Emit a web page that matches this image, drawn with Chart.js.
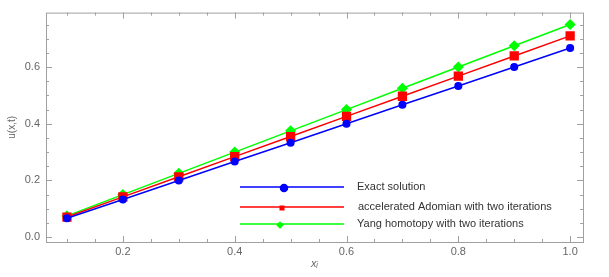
<!DOCTYPE html>
<html>
<head>
<meta charset="utf-8">
<script src="https://cdn.jsdelivr.net/npm/chart.js@4"></script>
<style>
  html, body { margin: 0; padding: 0; background: #fff; }
  #wrap { width: 609px; height: 277px; }
</style>
</head>
<body>
<div id="wrap"><canvas id="chart"></canvas></div>
<script>
// values
const xValues = [0.1, 0.2, 0.3, 0.4, 0.5, 0.6, 0.7, 0.8, 0.9, 1.0];
const exactValues = [0.067, 0.133, 0.2, 0.267, 0.333, 0.4, 0.467, 0.533, 0.6, 0.667];
const adomianValues = [0.071, 0.142, 0.213, 0.284, 0.355, 0.426, 0.497, 0.568, 0.639, 0.71];
const yangValues = [0.075, 0.15, 0.225, 0.3, 0.375, 0.45, 0.525, 0.6, 0.675, 0.75];
const seriesNames = ['Exact solution', 'accelerated Adomian with two iterations', 'Yang homotopy with two iterations'];
const xTickLabels = [0.2, 0.4, 0.6, 0.8, 1.0];
const yTickLabels = [0.0, 0.2, 0.4, 0.6];

const FONT = 'Arial, "Liberation Sans", sans-serif';
const AXIS_COLOR = '#a0a0a0';
const LABEL_COLOR = '#666';

function pts(ys) {
    return xValues.map((x, i) => ({ x: x, y: ys[i] }));
}

function minorList(from, to, step) {
    const out = [];
    for (let v = from; v <= to + 1e-9; v += step) out.push(Math.round(v * 1000) / 1000);
    return out;
}

// frame with inward ticks on all four sides
const framePlugin = {
    id: 'frame',
    afterDraw(chart) {
        const ctx = chart.ctx;
        const a = chart.chartArea;
        const xs = chart.scales.x, ys = chart.scales.y;
        ctx.save();
        ctx.strokeStyle = AXIS_COLOR;
        ctx.lineWidth = 1;
        ctx.strokeRect(a.left + 0.5, a.top + 0.5, a.right - a.left, a.bottom - a.top);
        ctx.beginPath();
        minorList(0.1, 1.0, 0.05).forEach(v => {
            const px = Math.round(xs.getPixelForValue(v)) + 0.5;
            const len = xTickLabels.some(t => Math.abs(t - v) < 1e-6) ? 6 : 3;
            ctx.moveTo(px, a.bottom); ctx.lineTo(px, a.bottom - len);
            ctx.moveTo(px, a.top); ctx.lineTo(px, a.top + len);
        });
        minorList(0.0, 0.75, 0.05).forEach(v => {
            const py = Math.round(ys.getPixelForValue(v)) + 0.5;
            const len = yTickLabels.some(t => Math.abs(t - v) < 1e-6) ? 6 : 3;
            ctx.moveTo(a.left, py); ctx.lineTo(a.left + len, py);
            ctx.moveTo(a.right, py); ctx.lineTo(a.right - len, py);
        });
        ctx.stroke();
        ctx.restore();
    }
};

// legend drawn inside the plot area
const legendPlugin = {
    id: 'insideLegend',
    afterDraw(chart) {
        const ctx = chart.ctx;
        const rows = [187, 207, 224];
        const markerX = [284, 282, 280];
        const markerR = [3.5, 2.5, 2.8];
        ctx.save();
        chart.data.datasets.forEach((ds, i) => {
            const y = rows[i];
            ctx.strokeStyle = ds.borderColor;
            ctx.lineWidth = 1.5;
            ctx.beginPath();
            ctx.moveTo(240, y); ctx.lineTo(344, y);
            ctx.stroke();
            Chart.helpers.drawPoint(ctx, {
                pointStyle: ds.pointStyle,
                radius: markerR[i],
                rotation: 0,
                borderWidth: 1
            }, markerX[i], y + 1);
            ctx.fillStyle = ds.backgroundColor;
            ctx.fill();
            ctx.fillStyle = '#333';
            ctx.font = '11px ' + FONT;
            ctx.textBaseline = 'middle';
            ctx.fillText(ds.label, i === 1 ? 358 : 357, y);
        });
        ctx.restore();
    }
};

function makeDataset(label, values, color, style, radius) {
    return {
        label: label,
        data: pts(values),
        borderColor: color,
        backgroundColor: color,
        pointBackgroundColor: color,
        pointBorderColor: color,
        pointStyle: style,
        pointRadius: radius,
        borderWidth: 1.5,
        tension: 0
    };
}

new Chart(document.getElementById('chart'), {
    type: 'line',
    data: {
        datasets: [
            makeDataset(seriesNames[0], exactValues, '#0000ff', 'circle', 3.3),
            makeDataset(seriesNames[1], adomianValues, '#ff0000', 'rect', 5.5),
            makeDataset(seriesNames[2], yangValues, '#00ff00', 'rectRot', 4.5)
        ]
    },
    options: {
        responsive: true,
        maintainAspectRatio: false,
        animation: false,
        layout: { padding: { top: 10, right: 26, bottom: 0, left: 0 } },
        plugins: {
            legend: { display: false },
            tooltip: { enabled: false }
        },
        scales: {
            x: {
                type: 'linear',
                min: 0.0625,
                max: 1.023,
                afterBuildTicks(scale) {
                    scale.ticks = xTickLabels.map(v => ({ value: v }));
                },
                afterFit(scale) { scale.height = 35; },
                grid: { display: false, drawTicks: false },
                border: { display: false },
                ticks: {
                    color: LABEL_COLOR,
                    font: { family: FONT, size: 11 },
                    padding: 3,
                    maxRotation: 0,
                    callback: v => v.toFixed(1)
                },
                title: {
                    display: true,
                    text: 'x\u1d62',
                    color: LABEL_COLOR,
                    font: { family: FONT, size: 11, style: 'italic' },
                    padding: { top: 2, bottom: 6 }
                }
            },
            y: {
                type: 'linear',
                min: -0.017,
                max: 0.792,
                afterBuildTicks(scale) {
                    scale.ticks = yTickLabels.map(v => ({ value: v }));
                },
                afterFit(scale) { scale.width = 46; },
                grid: { display: false, drawTicks: false },
                border: { display: false },
                ticks: {
                    color: LABEL_COLOR,
                    font: { family: FONT, size: 11 },
                    padding: 6,
                    callback: v => v.toFixed(1)
                },
                title: {
                    display: true,
                    text: 'u(x,t)',
                    color: LABEL_COLOR,
                    font: { family: FONT, size: 10 },
                    padding: { top: 6, bottom: 2 }
                }
            }
        }
    },
    plugins: [framePlugin, legendPlugin]
});
</script>
</body>
</html>
